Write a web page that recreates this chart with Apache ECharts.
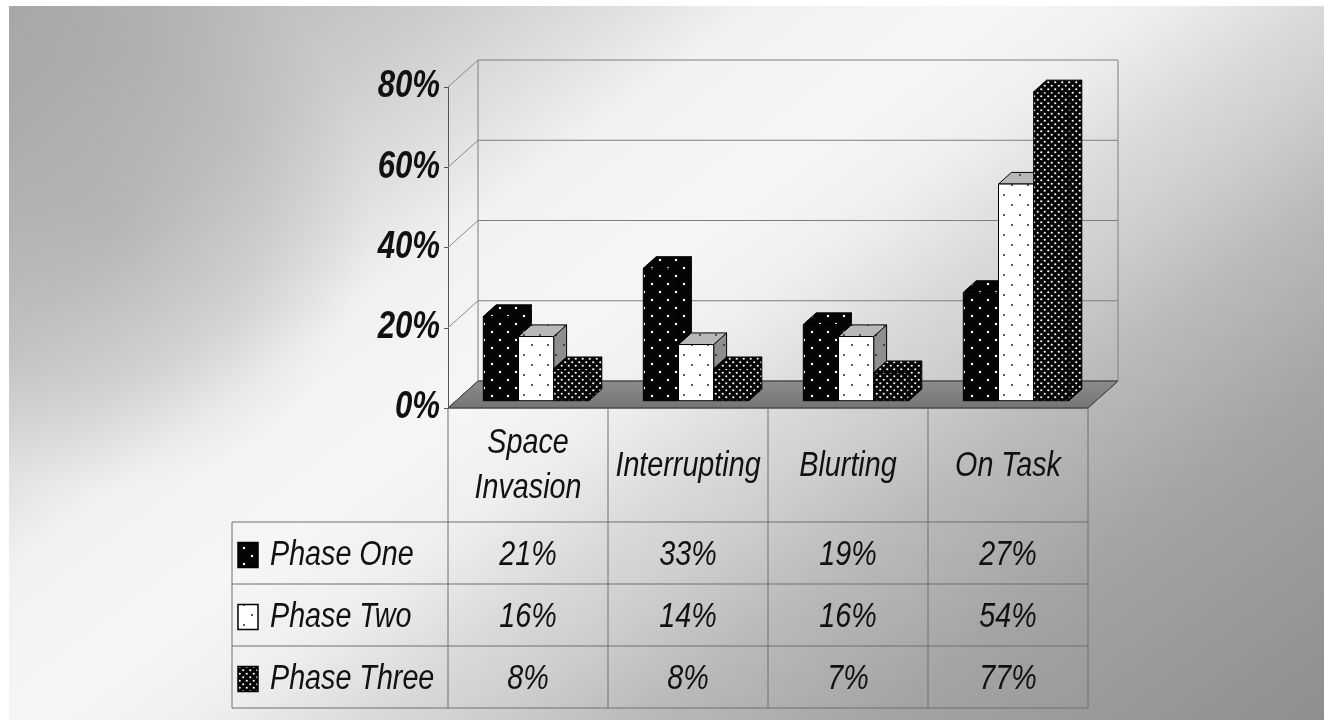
<!DOCTYPE html>
<html>
<head>
<meta charset="utf-8">
<script src="https://cdn.jsdelivr.net/npm/echarts@6/dist/echarts.min.js"></script>
<style>
  html, body { margin: 0; padding: 0; background: #fff; }
  #main { width: 1324px; height: 720px; }
</style>
</head>
<body>
<div id="main"></div>
<script>
// ---- data ----
const categories = ['Space\nInvasion', 'Interrupting', 'Blurting', 'On Task'];
const seriesNames = ['Phase One', 'Phase Two', 'Phase Three'];
const phaseOne = [21, 33, 19, 27];
const phaseTwo = [16, 14, 16, 54];
const phaseThree = [8, 8, 7, 77];
const yTicks = [0, 20, 40, 60, 80];
const tickLabels = ['0%', '20%', '40%', '60%', '80%'];

// ---- look ----
const FONT_FAMILY = "'Liberation Sans', Arial, sans-serif";
const CONDENSE = 0.82;                  // horizontal squeeze for the narrow lettering
const DEPTH_X = 30, DEPTH_Y = -27;      // floor / wall depth
const BAR_FRONT = 0.27, BAR_BACK = 0.70; // bar slab position inside the depth
const BAR_FRAC = 0.22;                   // bar width as share of a category band
const HEADER_H = 114, ROW_H = 62, LEGEND_W = 216;

function dotPattern(w, h, bg, dot, pts, r) {
  const c = document.createElement('canvas');
  c.width = w; c.height = h;
  const g = c.getContext('2d');
  g.fillStyle = bg; g.fillRect(0, 0, w, h);
  g.fillStyle = dot;
  pts.forEach(p => { g.beginPath(); g.arc(p[0], p[1], r, 0, Math.PI * 2); g.fill(); });
  return { image: c, repeat: 'repeat' };
}

const sparse = [[4, 4], [12, 12]];
const dense = [[1.75, 1.75], [5.25, 5.25]];
const fills = [
  { front: dotPattern(16, 16, '#050505', '#ffffff', sparse, 1.2),
    top:   dotPattern(16, 16, '#050505', '#ffffff', sparse, 1.2),
    side:  dotPattern(16, 16, '#050505', '#ffffff', sparse, 1.2) },
  { front: dotPattern(16, 20, '#ffffff', '#111111', [[4, 5], [12, 15]], 0.9),
    top:   dotPattern(16, 20, '#b8b8b8', '#222222', [[4, 5], [12, 15]], 0.9),
    side:  dotPattern(16, 20, '#8e8e8e', '#222222', [[4, 5], [12, 15]], 0.9) },
  { front: dotPattern(7, 7, '#050505', '#ffffff', dense, 1.1),
    top:   dotPattern(7, 7, '#050505', '#ffffff', dense, 1.1),
    side:  dotPattern(7, 7, '#050505', '#ffffff', dense, 1.1) }
];

// condensed text element, anchored at (x, y)
function narrowText(text, x, y, align, font, extra) {
  return {
    type: 'text', x: x, y: y, scaleX: CONDENSE, silent: true,
    style: Object.assign({ text: text, x: 0, y: 0, align: align, verticalAlign: 'middle', font: font, fill: '#111' },
      extra || {})
  };
}

// 3D box for one bar
function barRenderer(k) {
  return function (params, api) {
    const i = api.value(0), v = api.value(1);
    const band = api.size([1, 0])[0];
    const bw = band * BAR_FRAC;
    const base = api.coord([i, 0]);
    const top = api.coord([i, v]);
    const fx = DEPTH_X * BAR_FRONT, fy = DEPTH_Y * BAR_FRONT;
    const ddx = DEPTH_X * (BAR_BACK - BAR_FRONT), ddy = DEPTH_Y * (BAR_BACK - BAR_FRONT);
    const x0 = base[0] - 1.5 * bw + k * bw + fx;
    const x1 = x0 + bw;
    const yb = base[1] + fy, yt = top[1] + fy;
    const st = { stroke: '#000', lineWidth: 1, lineJoin: 'round' };
    return {
      type: 'group',
      children: [
        { type: 'polygon', shape: { points: [[x1, yt], [x1 + ddx, yt + ddy], [x1 + ddx, yb + ddy], [x1, yb]] },
          style: Object.assign({ fill: fills[k].side }, st) },
        { type: 'polygon', shape: { points: [[x0, yt], [x0 + ddx, yt + ddy], [x1 + ddx, yt + ddy], [x1, yt]] },
          style: Object.assign({ fill: fills[k].top }, st) },
        { type: 'polygon', shape: { points: [[x0, yt], [x1, yt], [x1, yb], [x0, yb]] },
          style: Object.assign({ fill: fills[k].front }, st) }
      ]
    };
  };
}

// back wall gridlines, side-wall diagonals, floor slab and value-axis labels
function wallRenderer(params, api) {
  const v = api.value(1);
  const cs = params.coordSys;
  const left = cs.x, right = cs.x + cs.width;
  const y = api.coord([0, v])[1];
  const y0 = api.coord([0, 0])[1];
  const children = [];
  if (v === yTicks[0]) {
    children.push({ type: 'polygon',
      shape: { points: [[left, y], [right, y], [right + DEPTH_X, y + DEPTH_Y], [left + DEPTH_X, y + DEPTH_Y]] },
      style: { fill: new echarts.graphic.LinearGradient(0, 0, 0, 1, [
        { offset: 0, color: '#8c8c8c' }, { offset: 1, color: '#747474' }]), stroke: '#4a4a4a', lineWidth: 1 } });
  } else {
    children.push({ type: 'line', shape: { x1: left, y1: y, x2: left + DEPTH_X, y2: y + DEPTH_Y },
      style: { stroke: '#8a8a8a', lineWidth: 1 } });
    children.push({ type: 'line', shape: { x1: left + DEPTH_X, y1: y + DEPTH_Y, x2: right + DEPTH_X, y2: y + DEPTH_Y },
      style: { stroke: '#7e7e7e', lineWidth: 1 } });
  }
  if (v === yTicks[yTicks.length - 1]) {
    children.push({ type: 'line', shape: { x1: left + DEPTH_X, y1: y + DEPTH_Y, x2: left + DEPTH_X, y2: y0 + DEPTH_Y },
      style: { stroke: '#7e7e7e', lineWidth: 1 } });
    children.push({ type: 'line', shape: { x1: right + DEPTH_X, y1: y + DEPTH_Y, x2: right + DEPTH_X, y2: y0 + DEPTH_Y },
      style: { stroke: '#7e7e7e', lineWidth: 1 } });
  }
  children.push(narrowText(tickLabels[yTicks.indexOf(v)], left - 8, y, 'right',
    'italic bold 38px ' + FONT_FAMILY));
  return { type: 'group', children };
}

const chart = echarts.init(document.getElementById('main'), null, { renderer: 'canvas' });

const values = [phaseOne, phaseTwo, phaseThree];

const option = {
  animation: false,
  grid: { left: 448, right: 236, top: 87, bottom: 312, show: false, containLabel: false, outerBoundsMode: 'none' },
  xAxis: {
    type: 'category', data: categories,
    axisLine: { show: false }, axisTick: { show: false }, axisLabel: { show: false }, splitLine: { show: false }
  },
  yAxis: {
    type: 'value', min: 0, max: 80, interval: 20,
    axisLine: { show: true, lineStyle: { color: '#555', width: 1 } },
    axisTick: { show: true, length: 4, lineStyle: { color: '#555' } },
    splitLine: { show: false },
    axisLabel: { show: false }
  },
  series: [
    { type: 'custom', name: 'wall', z: 1, silent: true, clip: false,
      data: yTicks.map(v => [0, v]), renderItem: wallRenderer }
  ].concat(values.map((vals, k) => ({
    type: 'custom', name: seriesNames[k], z: 3 + k, silent: true, clip: false,
    data: vals.map((v, i) => [i, v]), renderItem: barRenderer(k)
  })))
};

chart.setOption(option);

// ---- backdrop and data table ----
const colCenters = categories.map((c, i) => chart.convertToPixel({ xAxisIndex: 0 }, i));
const band = colCenters[1] - colCenters[0];
const floorY = chart.convertToPixel({ yAxisIndex: 0 }, 0);
const tableLeft = colCenters[0] - band / 2;
const tableRight = colCenters[colCenters.length - 1] + band / 2;
const headerBottom = floorY + HEADER_H;
const tableBottom = headerBottom + ROW_H * seriesNames.length;
const legendLeft = tableLeft - LEGEND_W;

const W = 1324, H = 720;
const graphics = [];

// diagonal light band across the sheet
graphics.push({ type: 'rect', z: -10, silent: true, shape: { x: 0, y: 0, width: W, height: H },
  style: { fill: new echarts.graphic.LinearGradient(0, 0, 822, 1096, [
    { offset: 0, color: '#a8a8a8' }, { offset: 0.19, color: '#cbcbcb' },
    { offset: 0.277, color: '#e0e0e0' }, { offset: 0.336, color: '#f1f1f1' },
    { offset: 0.438, color: '#f6f6f6' }, { offset: 0.511, color: '#eeeeee' },
    { offset: 0.584, color: '#d9d9d9' }, { offset: 0.635, color: '#cdcdcd' },
    { offset: 0.70, color: '#bababa' }, { offset: 0.81, color: '#a3a3a3' },
    { offset: 1, color: '#8e8e8e' }], true) } });
// darker strip down the left side
graphics.push({ type: 'rect', z: -9, silent: true, shape: { x: 0, y: 0, width: 420, height: 560 },
  style: { fill: new echarts.graphic.RadialGradient(100, 220, 270, [
    { offset: 0, color: 'rgba(110,110,110,0.22)' }, { offset: 0.6, color: 'rgba(110,110,110,0.13)' },
    { offset: 1, color: 'rgba(110,110,110,0)' }], true) } });
graphics.push({ type: 'rect', z: -8, silent: true, shape: { x: 0, y: 0, width: W, height: 6 }, style: { fill: '#fff' } });
graphics.push({ type: 'rect', z: -8, silent: true, shape: { x: 0, y: 0, width: 9, height: H }, style: { fill: '#fff' } });

const lineStyle = { stroke: '#6e6e6e', lineWidth: 1 };
function hline(y, x1, x2) {
  graphics.push({ type: 'line', z: 5, silent: true, shape: { x1, y1: y, x2, y2: y }, style: lineStyle });
}
function vline(x, y1, y2) {
  graphics.push({ type: 'line', z: 5, silent: true, shape: { x1: x, y1, x2: x, y2 }, style: lineStyle });
}

// column boundaries and row rules
for (let i = 0; i <= categories.length; i++) vline(tableLeft + i * band, floorY, tableBottom);
vline(legendLeft, headerBottom, tableBottom);
for (let r = 0; r <= seriesNames.length; r++) hline(headerBottom + r * ROW_H, legendLeft, tableRight);

const cellFont = 'italic 35px ' + FONT_FAMILY;

// header cells
categories.forEach((c, i) => {
  graphics.push(Object.assign(narrowText(c, colCenters[i], (floorY + headerBottom) / 2 + 1, 'center', cellFont,
    { lineHeight: 45 }), { z: 6 }));
});

// value rows with legend keys
seriesNames.forEach((name, k) => {
  const cy = headerBottom + ROW_H * k + ROW_H / 2 + 2;
  graphics.push({ type: 'rect', z: 6, silent: true,
    shape: { x: legendLeft + 6, y: cy - 12.5, width: 20, height: 25 },
    style: { fill: fills[k].front, stroke: '#000', lineWidth: 1.5 } });
  graphics.push(Object.assign(narrowText(name, legendLeft + 38, cy, 'left', cellFont), { z: 6 }));
  values[k].forEach((v, i) => {
    graphics.push(Object.assign(narrowText(v + '%', colCenters[i], cy, 'center', cellFont), { z: 6 }));
  });
});

chart.setOption({ graphic: graphics });
</script>
</body>
</html>
